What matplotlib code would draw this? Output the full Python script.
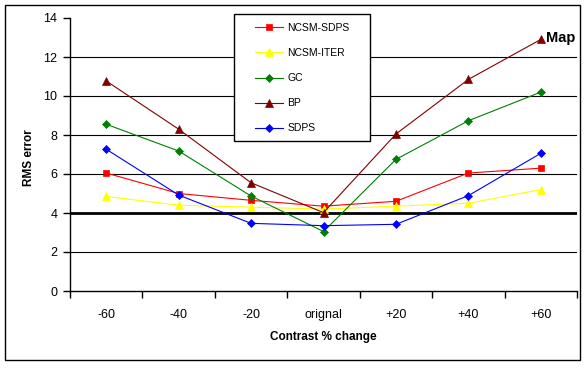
import matplotlib
matplotlib.use("Agg")
import matplotlib.pyplot as plt
from matplotlib.patches import Rectangle
import numpy as np

# ===== Data =====
categories = ["-60", "-40", "-20", "orignal", "+20", "+40", "+60"]
ncsm_sdps = [6.05, 5.00, 4.65, 4.35, 4.60, 6.05, 6.30]
ncsm_iter = [4.85, 4.40, 4.30, 4.20, 4.35, 4.50, 5.20]
gc = [8.55, 7.18, 4.87, 3.05, 6.75, 8.73, 10.20]
bp = [10.77, 8.30, 5.55, 4.02, 8.05, 10.85, 12.90]
sdps = [7.27, 4.92, 3.47, 3.35, 3.42, 4.89, 7.06]
y_ticks = [0, 2, 4, 6, 8, 10, 12, 14]

series = [
    ("NCSM-SDPS", ncsm_sdps, "#FF0000", "s", 5.0),
    ("NCSM-ITER", ncsm_iter, "#FFFF00", "^", 6.0),
    ("GC", gc, "#008000", "D", 4.3),
    ("BP", bp, "#800000", "^", 6.0),
    ("SDPS", sdps, "#0000FF", "D", 4.3),
]

W, H = 587, 368
font = "Liberation Sans"
plt.rcParams["font.family"] = font

fig = plt.figure(figsize=(W / 100, H / 100), dpi=100)

def px(x, y):
    # figure pixel (from top-left) -> figure fraction
    return x / W, 1 - y / H

# plot area in pixels
x0, x1, ytop, ybot = 70, 577, 18, 291
ax = fig.add_axes([x0 / W, 1 - ybot / H, (x1 - x0) / W, (ybot - ytop) / H])

x = np.arange(len(categories))
handles = []
for name, vals, col, mk, ms in series:
    h, = ax.plot(x, vals, color=col, marker=mk, markersize=ms, linewidth=0.8,
                 markeredgewidth=0.5, markeredgecolor=col, label=name, zorder=3)
    handles.append(h)

# ===== Axes =====
ax.set_xlim(-0.5, len(categories) - 0.5)
ax.set_ylim(0, 14)
ax.set_yticks(y_ticks)
ax.set_yticklabels([str(v) for v in y_ticks], fontsize=9)
ax.set_xticks(x)
ax.set_xticklabels(categories, fontsize=9)
ax.set_xticks(np.arange(-0.5, len(categories), 1.0), minor=True)
ax.tick_params(axis="x", which="major", length=0, pad=13)
ax.tick_params(axis="x", which="minor", length=5, width=1, direction="out")
ax.tick_params(axis="y", which="major", length=5, width=1, direction="out", pad=4)

for s in ["top", "right"]:
    ax.spines[s].set_visible(False)
for s in ["left", "bottom"]:
    ax.spines[s].set_linewidth(1.0)

for v in y_ticks[1:-1]:
    ax.axhline(v, color="black", linewidth=2.0 if v == 4 else 0.8, zorder=1)

# ===== Labels =====
fig.text(*px(323, 337), "Contrast % change", fontsize=8.5, fontweight="bold",
         ha="center", va="center")
fig.text(*px(29, 158), "RMS error", fontsize=8.5, fontweight="bold",
         ha="center", va="center", rotation=90)

ax.annotate("Map", xy=(6, bp[-1]), xytext=(4, 1), textcoords="offset points",
            fontsize=10.5, fontweight="bold", ha="left", va="center")

# ===== Legend (manual frame) =====
lx0, ly0, lx1, ly1 = 234, 14, 370, 141
fig.add_artist(Rectangle(px(lx0, ly1), (lx1 - lx0) / W, (ly1 - ly0) / H,
                         transform=fig.transFigure, facecolor="white",
                         edgecolor="black", linewidth=1.0, zorder=5))
leg = fig.legend(handles=handles, loc="upper left", bbox_to_anchor=px(255, 23),
                 frameon=False, fontsize=7.5, handlelength=2.7, handletextpad=0.4,
                 labelspacing=1.45, borderpad=0, borderaxespad=0, numpoints=1)
leg.set_zorder(6)

# ===== Outer border =====
fig.add_artist(Rectangle(px(5, 360), 575 / W, 355 / H, transform=fig.transFigure,
                         facecolor="none", edgecolor="black", linewidth=1.0))

plt.savefig("out.png", dpi=100)
